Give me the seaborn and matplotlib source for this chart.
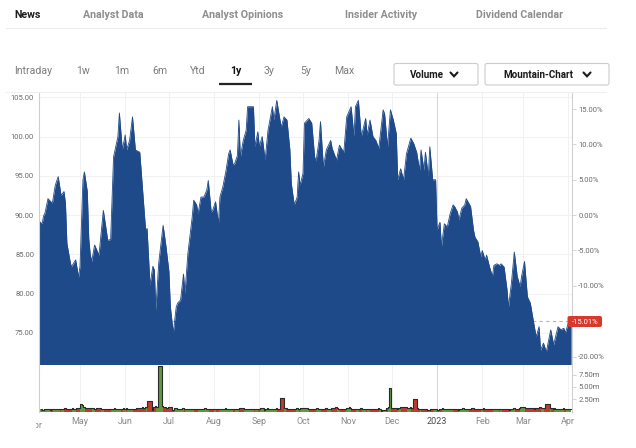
import numpy as np
import pandas as pd
import matplotlib
matplotlib.use("Agg")
import matplotlib.pyplot as plt
import seaborn as sns
from matplotlib.patches import FancyBboxPatch
from matplotlib.lines import Line2D
from matplotlib.transforms import Bbox

# ---------------- data ----------------
start_date = pd.Timestamp("2022-04-01")
day_offsets = [2, 4, 5, 6, 8, 11, 13, 15, 17, 19, 20, 21, 23, 24, 27, 29, 30, 31, 32, 33,
               35, 36, 37, 38, 40, 43, 46, 49, 51, 53, 56, 57, 59, 61, 62, 64, 66, 68, 71, 75,
               76, 78, 80, 81, 82, 84, 87, 89, 91, 92, 94, 96, 97, 99, 101, 102, 104, 107, 108, 110,
               111, 113, 115, 117, 118, 120, 121, 123, 125, 126, 128, 130, 132, 133, 135, 136, 138, 139, 140, 142,
               144, 145, 149, 150, 152, 153, 155, 157, 159, 162, 163, 165, 168, 170, 172, 174, 175, 177, 179, 180,
               181, 183, 184, 187, 189, 191, 192, 194, 195, 197, 199, 202, 203, 206, 208, 211, 213, 216, 218, 219,
               221, 223, 226, 227, 229, 231, 233, 235, 238, 239, 241, 243, 245, 247, 248, 250, 252, 254, 257, 259,
               261, 263, 264, 266, 267, 269, 270, 272, 274, 275, 277, 278, 280, 282, 284, 286, 287, 289, 290, 292,
               294, 295, 298, 300, 301, 303, 305, 306, 308, 309, 311, 313, 314, 316, 318, 319, 321, 323, 324, 326,
               328, 330, 332, 333, 335, 337, 339, 341, 343, 345, 346, 348, 350, 352, 353, 355, 357, 358, 360, 362,
               363, 365, 367]
prices = [89.2, 88.9, 89.9, 90.3, 92.1, 91.5, 93.8, 94.9, 92.5, 93.0, 91.5, 86.4, 84.3, 83.4, 84.3, 82.1, 83.5, 89.0, 94.5, 95.5,
          93.0, 87.0, 85.0, 84.1, 86.2, 84.9, 90.6, 86.8, 86.9, 97.4, 100.0, 103.0, 98.3, 100.2, 98.3, 99.5, 102.5, 98.3, 98.0, 88.1,
          88.3, 81.1, 83.5, 83.0, 77.9, 83.9, 88.7, 86.0, 82.8, 78.3, 75.0, 78.3, 78.8, 79.2, 82.5, 80.0, 85.1, 89.8, 91.9, 91.3,
          90.2, 92.3, 92.3, 93.2, 94.4, 90.4, 90.6, 91.7, 88.9, 92.3, 93.6, 95.5, 97.8, 98.3, 96.4, 96.5, 97.6, 102.1, 97.4, 99.5,
          100.8, 103.8, 103.8, 98.7, 100.6, 98.7, 100.0, 97.0, 100.8, 103.8, 102.1, 104.6, 101.2, 102.5, 102.1, 98.3, 94.0, 91.3, 92.3, 95.5,
          93.8, 95.3, 101.7, 102.3, 101.7, 97.4, 96.9, 99.5, 101.9, 96.1, 98.3, 99.5, 98.5, 97.0, 98.9, 98.0, 102.5, 103.8, 100.0, 103.8,
          104.6, 100.0, 102.3, 100.2, 102.1, 100.0, 99.5, 98.5, 103.4, 102.9, 98.7, 103.4, 102.1, 100.4, 94.5, 95.9, 94.5, 97.8, 99.8, 99.1,
          98.0, 95.7, 98.3, 95.7, 98.0, 94.9, 98.7, 94.5, 94.5, 88.1, 89.1, 86.0, 88.9, 88.5, 90.2, 91.3, 91.1, 90.4, 89.4, 90.9,
          91.3, 92.1, 91.1, 88.1, 87.2, 86.6, 84.7, 85.5, 84.3, 84.9, 83.4, 82.2, 83.6, 83.8, 83.6, 83.8, 83.4, 80.5, 78.3, 81.3,
          85.3, 82.2, 80.9, 82.2, 84.1, 79.6, 78.8, 76.6, 74.5, 75.8, 72.8, 73.7, 72.6, 74.5, 75.4, 73.5, 75.0, 75.8, 75.4, 75.6,
          75.0, 76.2, 76.49]
ref_close = 90.0          # price at 0.00 % on the right-hand axis
last_change_label = "-15.01%"

vol_start = "2022-04-04"  # volumes in millions, one per weekday
vol_apr22 = [0.5, 0.6, 0.4, 0.5, 0.5, 0.4, 0.5, 0.6, 0.5, 0.5, 0.6, 0.5, 0.6, 0.7, 0.6, 0.6, 0.7, 0.6, 0.6, 0.8]
vol_may22 = [1.5, 1.3, 0.9, 0.8, 0.7, 0.7, 0.8, 0.6, 0.6, 0.7, 0.6, 0.5, 0.5, 0.6, 0.5, 0.5, 0.6, 0.7, 0.6, 0.6, 0.5, 0.7]
vol_jun22 = [0.6, 0.7, 0.5, 0.6, 0.5, 0.6, 0.7, 0.8, 0.9, 0.8, 0.9, 1.0, 2.1, 0.3, 1.0, 1.1, 0.9, 9.3, 1.2, 0.9, 1.0, 0.8]
vol_jul22 = [0.9, 0.3, 0.8, 0.7, 0.6, 0.6, 0.7, 0.6, 0.5, 0.6, 0.5, 0.6, 0.5, 0.5, 0.6, 0.5, 0.6, 0.7, 0.6, 0.5, 0.6]
vol_aug22 = [0.5, 0.6, 0.5, 0.5, 0.6, 0.5, 0.7, 0.6, 0.5, 0.5, 0.6, 0.5, 0.5, 0.6, 0.7, 0.5, 0.5, 0.6, 0.5, 0.6, 0.5, 0.5, 0.6]
vol_sep22 = [0.5, 0.7, 0.3, 0.6, 0.8, 0.6, 0.5, 0.6, 0.7, 0.6, 0.6, 2.8, 0.8, 0.7, 0.6, 0.6, 0.5, 0.6, 0.7, 0.6, 0.5, 0.7]
vol_oct22 = [0.7, 0.8, 0.6, 0.5, 0.6, 0.5, 0.7, 0.6, 0.5, 0.6, 0.7, 0.6, 0.5, 0.6, 0.8, 0.9, 0.7, 0.6, 0.5, 0.6, 0.7]
vol_nov22 = [0.8, 0.9, 0.7, 0.6, 0.6, 0.5, 0.6, 0.7, 0.6, 0.5, 0.6, 0.5, 0.6, 0.5, 0.6, 0.7, 0.6, 0.2, 0.4, 0.8, 0.9, 4.8]
vol_dec22 = [0.7, 0.8, 0.6, 0.7, 0.9, 1.0, 0.9, 0.8, 0.7, 1.0, 0.8, 2.5, 0.7, 0.6, 0.5, 0.5, 0.6, 0.3, 0.4, 0.5, 0.5, 0.5]
vol_jan23 = [0.3, 0.5, 0.6, 0.7, 0.6, 0.5, 0.5, 0.6, 0.5, 0.6, 0.3, 0.5, 0.6, 0.7, 0.6, 0.5, 0.6, 0.7, 0.8, 0.6, 0.5, 0.6]
vol_feb23 = [0.6, 0.7, 0.6, 0.5, 0.5, 0.6, 0.5, 0.6, 0.5, 0.6, 0.5, 0.6, 0.5, 0.3, 0.5, 0.6, 0.7, 0.6, 0.8, 0.9]
vol_mar23 = [0.9, 1.0, 0.8, 0.7, 0.8, 0.7, 0.6, 0.8, 0.9, 0.7, 0.7, 0.8, 1.5, 0.8, 0.7, 0.6, 0.7, 0.6, 0.5, 0.6, 0.7, 0.6, 0.6]
vol_apr23 = [0.5]

price_ticks = [75, 80, 85, 90, 95, 100, 105]
pct_ticks = [-20, -10, -5, 0, 5, 10, 15]
vol_ticks = [2.5, 5.0, 7.5]
month_labels = ["May", "Jun", "Jul", "Aug", "Sep", "Oct", "Nov", "Dec", "2023", "Feb", "Mar", "Apr"]
first_month_label = "Apr"

nav_tabs = ["News", "Analyst Data", "Analyst Opinions", "Insider Activity", "Dividend Calendar"]
range_tabs = ["Intraday", "1w", "1m", "6m", "Ytd", "1y", "3y", "5y", "Max"]
buttons = ["Volume", "Mountain-Chart"]

# ---------------- setup ----------------
sns.set_theme(style="white")
plt.rcParams["font.family"] = ["Roboto", "DejaVu Sans"]

W, H = 636, 448
fig = plt.figure(figsize=(W / 100, H / 100), dpi=100)
fig.patch.set_facecolor("white")

BLUE = "#1f4a89"
GREEN = "#5f9a3c"
RED = "#bf3a2f"
GRID = "#f1f1f1"
LBL = "#6a6a6a"

def fbox(x0, y0, x1, y1):
    return [x0 / W, 1 - y1 / H, (x1 - x0) / W, (y1 - y0) / H]

dates = start_date + pd.to_timedelta(day_offsets, unit="D")
volumes = (vol_apr22 + vol_may22 + vol_jun22 + vol_jul22 + vol_aug22 + vol_sep22 + vol_oct22
           + vol_nov22 + vol_dec22 + vol_jan23 + vol_feb23 + vol_mar23 + vol_apr23)
vdates = pd.bdate_range(vol_start, periods=len(volumes))
vday = (vdates - start_date).days.values
vprice = np.interp(vday, day_offsets, prices)
up = np.r_[True, np.diff(vprice) >= 0]
vcolors = [GREEN if u else RED for u in up]
# each bar spans until the next trading day, so the bars sit edge to edge
vwidths = np.r_[np.diff(vday), 1].astype(float)
vleft = vdates - pd.Timedelta(hours=18)
vright = vleft + pd.to_timedelta(vwidths, unit="D")

x0 = start_date + pd.Timedelta(days=1.85)
x1 = start_date + pd.Timedelta(days=367.6)
month_ticks = pd.date_range("2022-05-01", "2023-04-01", freq="MS")
year_line = pd.Timestamp("2023-01-01")

# ---------------- price panel ----------------
ax = fig.add_axes(fbox(39, 92, 572, 365))
ylo, yhi = 70.92, 105.67
ax.set_xlim(x0, x1)
ax.set_ylim(ylo, yhi)
ax.set_yticks(price_ticks)
ax.set_yticklabels([f"{v:.2f}" for v in price_ticks])
ax.set_xticks(month_ticks)
ax.set_xticklabels([])
ax.grid(True, color=GRID, lw=0.7)
ax.set_axisbelow(True)
for gl in ax.get_xgridlines() + ax.get_ygridlines():
    gl.set_zorder(0.1)
ax.axvline(year_line, color="#d8d8d8", lw=0.8, zorder=0.6)
ax.axhline(prices[-1], color="#b5b5b5", lw=0.8, ls=(0, (3, 3)), zorder=0.7)
ax.fill_between(dates, prices, ylo, color=BLUE, lw=0, zorder=3)
sns.lineplot(x=dates, y=prices, ax=ax, color=BLUE, lw=0.6, zorder=4)
ax.scatter([dates[-1]], [prices[-1]], s=16, color="#93a7c8", edgecolor="white", lw=0.6,
           zorder=6, clip_on=False)
ax.tick_params(axis="y", length=0, pad=3.5, labelsize=5.5, labelcolor=LBL)
ax.tick_params(axis="x", length=0)
ax.set_xlabel("")
ax.set_ylabel("")
for s in ["left", "right"]:
    ax.spines[s].set_color("#cfcfcf")
    ax.spines[s].set_linewidth(0.8)
    ax.spines[s].set_zorder(5)
ax.spines["top"].set_color("#ececec")
ax.spines["top"].set_linewidth(0.6)
ax.spines["bottom"].set_visible(False)

axr = ax.twinx()
axr.set_ylim((ylo / ref_close - 1) * 100, (yhi / ref_close - 1) * 100)
axr.set_yticks(pct_ticks)
axr.set_yticklabels([f"{v:.2f}%" for v in pct_ticks])
axr.tick_params(axis="y", length=3, width=0.6, color="#cfcfcf", pad=1.5, labelsize=5.5, labelcolor=LBL)
for s in axr.spines.values():
    s.set_visible(False)
axr.grid(False)

# ---------------- volume panel ----------------
axv = fig.add_axes(fbox(39, 365, 572, 412))
axv.set_xlim(x0, x1)
axv.set_ylim(-0.08, 9.47)
axv.set_xticks(month_ticks)
axv.set_xticklabels(month_labels)
axv.grid(True, axis="x", color=GRID, lw=0.7)
axv.set_axisbelow(True)
axv.axvline(year_line, color="#d8d8d8", lw=0.8, zorder=0.6)
axv.bar(vleft, volumes, width=vwidths, align="edge", color=vcolors, lw=0, zorder=2)
sns.lineplot(x=vright, y=volumes, ax=axv, color="#2a2a2a",
             lw=0.8, drawstyle="steps-pre", zorder=3)
axv.yaxis.tick_right()
axv.set_yticks(vol_ticks)
axv.set_yticklabels([f"{v:.2f}m" for v in vol_ticks])
axv.tick_params(axis="y", length=3, width=0.6, color="#cfcfcf", pad=1.5, labelsize=5.5, labelcolor=LBL)
axv.tick_params(axis="x", length=0, pad=3.5, labelsize=6.5, labelcolor="#8a8a8a")
for lab in axv.get_xticklabels():
    if lab.get_text() == "2023":
        lab.set_color("#4a4a4a")
axv.set_xlabel("")
axv.set_ylabel("")
for s in ["left", "right"]:
    axv.spines[s].set_color("#cfcfcf")
    axv.spines[s].set_linewidth(0.8)
axv.spines["top"].set_visible(False)
axv.spines["bottom"].set_visible(False)
# partially hidden first month label
t_apr = axv.text(start_date, -0.2, first_month_label, transform=axv.get_xaxis_transform(),
                 ha="center", va="top", fontsize=6.5, color="#8a8a8a")
t_apr.set_clip_box(Bbox([[35.5, 0], [W, H]]))
t_apr.set_clip_on(True)

# ---------------- page chrome (pixel overlay) ----------------
ov = fig.add_axes([0, 0, 1, 1], facecolor="none")
ov.set_xlim(0, W)
ov.set_ylim(H, 0)
ov.axis("off")

nav_x = [14, 83, 202, 345, 476]
for i, (t, x) in enumerate(zip(nav_tabs, nav_x)):
    ov.text(x, 14.5, t, ha="left", va="center", fontsize=7.7, fontweight="bold",
            color="#1e1e1e" if i == 0 else "#8e8e8e")
ov.plot([6, 606], [28.5, 28.5], color="#ececec", lw=0.8)

rng_x = [14, 76, 114, 152, 190, 230, 264, 300, 334]
for t, x in zip(range_tabs, rng_x):
    sel = t == "1y"
    ov.text(x, 71.5, t, ha="left", va="center", fontsize=7.6,
            fontweight="bold" if sel else "normal", color="#111111" if sel else "#7d7d7d")
ov.plot([219, 252], [84.5, 84.5], color="#222222", lw=1.6, solid_capstyle="butt")
ov.plot([6, 606], [92, 92], color="#efefef", lw=0.7, zorder=0)

btn_boxes = [(394, 63.5, 478, 85), (485, 63.5, 609, 85)]
btn_text_x = [427, 538]
chev_x = [454, 587]
for t, (bx0, by0, bx1, by1), tx, cx in zip(buttons, btn_boxes, btn_text_x, chev_x):
    ov.add_patch(FancyBboxPatch((bx0, by0), bx1 - bx0, by1 - by0,
                                boxstyle="round,pad=0,rounding_size=2", fc="white",
                                ec="#cccccc", lw=0.8))
    ov.text(tx, 74.5, t, ha="center", va="center", fontsize=7.1, fontweight="bold", color="#1a1a1a")
    ov.add_line(Line2D([cx - 3.5, cx, cx + 3.5], [72.5, 76.3, 72.5], color="#1a1a1a", lw=1.5,
                       solid_capstyle="round", solid_joinstyle="miter"))

# last-change badge
ov.add_patch(FancyBboxPatch((567.5, 316), 34.5, 11, boxstyle="round,pad=0,rounding_size=2",
                            fc="#d8392c", ec="none", zorder=5))
ov.text(585, 321.7, last_change_label, ha="center", va="center", fontsize=5.5,
        color="white", zorder=6)

fig.savefig("out.png", dpi=100, facecolor="white")
